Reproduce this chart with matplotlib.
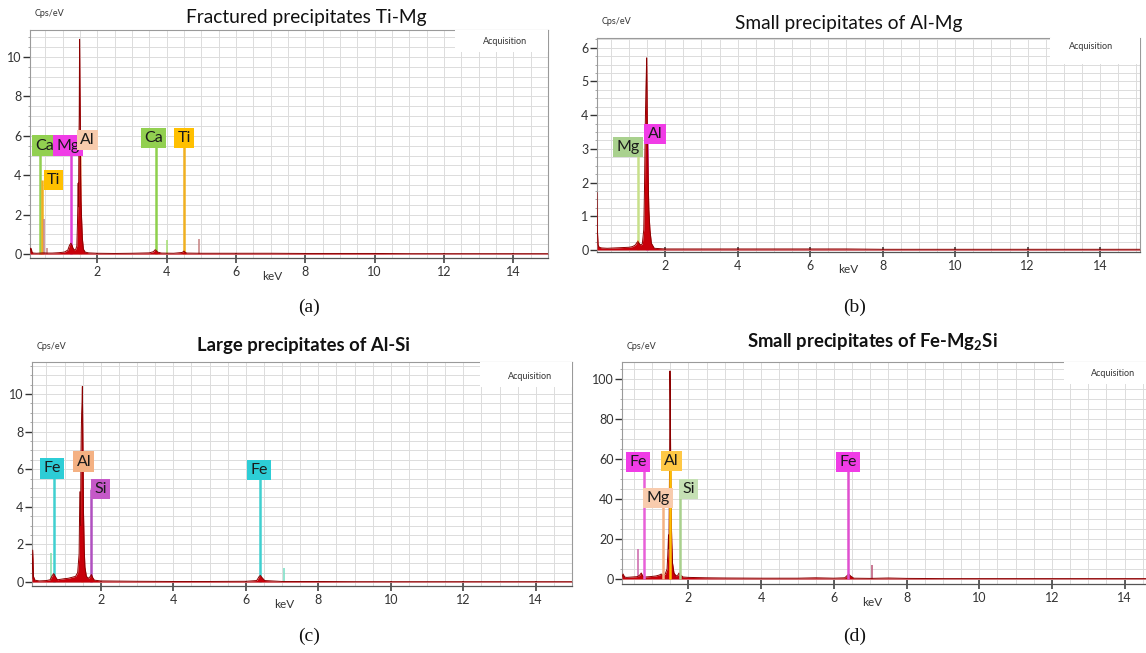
import numpy as np
import matplotlib
matplotlib.use('Agg')
import matplotlib.pyplot as plt
from matplotlib.patches import Rectangle
from matplotlib.ticker import MultipleLocator

plt.rcParams['font.family'] = ['Lato', 'DejaVu Sans']
plt.rcParams['mathtext.fontset'] = 'custom'
plt.rcParams['mathtext.rm'] = 'Lato'
plt.rcParams['mathtext.bf'] = 'Lato:bold'

W, H = 1146, 653

# ---------------- data ----------------
TITLES = ['Fractured precipitates Ti-Mg', 'Small precipitates of Al-Mg',
          'Large precipitates of Al-Si', r'Small precipitates of Fe-Mg$_\mathbf{2}$Si']
TITLE_BOLD = [False, False, True, True]
PANEL_LETTERS = ['(a)', '(b)', '(c)', '(d)']

# panel (a) spectrum
A_KEV = [0.06, 0.08, 0.10, 0.12, 0.16, 0.25, 0.35, 0.45, 0.55, 0.7,
         0.9, 1.05, 1.15, 1.20, 1.24, 1.27, 1.30, 1.34, 1.38, 1.41,
         1.43, 1.45, 1.46, 1.47, 1.48, 1.49, 1.50, 1.51, 1.52, 1.53,
         1.55, 1.57, 1.60, 1.65, 1.75, 2.0, 2.5, 3.0, 3.5, 3.62,
         3.67, 3.70, 3.74, 3.85, 4.2, 4.45, 4.50, 4.53, 4.58, 5.0,
         6.0, 7.0, 8.0, 9.0, 10.0, 11.0, 12.0, 13.0, 14.0, 15.0]
A_CPS = [0.10, 0.30, 0.25, 0.08, 0.05, 0.04, 0.05, 0.06, 0.05, 0.05,
         0.07, 0.10, 0.20, 0.45, 0.55, 0.45, 0.30, 0.20, 0.25, 0.40,
         1.60, 3.60, 2.40, 5.50, 7.00, 10.90, 8.50, 6.80, 4.00, 2.70,
         1.70, 0.80, 0.25, 0.10, 0.06, 0.04, 0.03, 0.04, 0.06, 0.12,
         0.22, 0.18, 0.10, 0.05, 0.04, 0.08, 0.15, 0.10, 0.05, 0.04,
         0.04, 0.04, 0.03, 0.03, 0.03, 0.02, 0.02, 0.02, 0.02, 0.02]
A_ELEM = ['Ca', 'Ti', 'Mg', 'Al', 'Ca', 'Ti']
A_LINE_KEV = [0.34, 0.41, 1.25, 1.49, 3.69, 4.51]
A_LABEL_Y = [5.5, 3.75, 5.5, 5.8, 5.9, 5.9]
A_LABEL_KEV = [0.48, 0.74, 1.15, 1.71, 3.62, 4.51]
A_BOX_COLORS = ['#92d050', '#ffc000', '#f03ce6', '#f8cbad', '#92d050', '#ffc000']
A_LINE_COLORS = ['#92d050', '#f0b020', '#e040d8', '#f4b183', '#8ed04c', '#f0b020']
A_MINOR_KEV = [0.46, 0.56, 4.01, 4.93]
A_MINOR_CPS = [1.8, 0.3, 0.7, 0.75]
A_MINOR_COLORS = ['#c98a8a', '#c98a8a', '#a9e07a', '#c98a8a']

# panel (b) spectrum
B_KEV = [0.12, 0.13, 0.15, 0.18, 0.25, 0.4, 0.6, 0.8, 1.0, 1.1,
         1.18, 1.22, 1.25, 1.28, 1.32, 1.37, 1.41, 1.43, 1.45, 1.47,
         1.48, 1.49, 1.50, 1.51, 1.53, 1.55, 1.58, 1.62, 1.7, 2.0,
         3.0, 4.0, 5.0, 6.0, 7.0, 8.0, 9.0, 10.0, 11.0, 12.0, 13.0, 14.0, 15.1]
B_CPS = [1.70, 0.60, 0.15, 0.08, 0.06, 0.05, 0.06, 0.07, 0.08, 0.10,
         0.15, 0.22, 0.25, 0.20, 0.15, 0.18, 0.60, 1.80, 3.60, 4.80,
         5.20, 5.70, 4.60, 3.40, 2.20, 1.20, 0.60, 0.20, 0.05, 0.03,
         0.03, 0.03, 0.03, 0.03, 0.03, 0.02, 0.02, 0.02, 0.02, 0.02, 0.02, 0.02, 0.02]
B_ELEM = ['Mg', 'Al']
B_LINE_KEV = [1.25, 1.49]
B_LABEL_Y = [3.06, 3.44]
B_LABEL_KEV = [0.98, 1.72]
B_BOX_COLORS = ['#a9d18e', '#f03ce6']
B_LINE_COLORS = ['#c8e08a', '#e040d8']
B_MINOR_KEV = [1.25]
B_MINOR_CPS = [0.3]
B_MINOR_COLORS = ['#f0b050']

# panel (c) spectrum
C_KEV = [0.10, 0.12, 0.14, 0.18, 0.3, 0.5, 0.6, 0.66, 0.70, 0.74,
         0.8, 0.9, 1.0, 1.1, 1.2, 1.3, 1.36, 1.40, 1.42, 1.44,
         1.45, 1.46, 1.47, 1.48, 1.49, 1.50, 1.51, 1.52, 1.54, 1.56,
         1.60, 1.66, 1.71, 1.74, 1.77, 1.82, 2.0, 2.5, 3.0, 4.0,
         5.0, 6.0, 6.3, 6.37, 6.40, 6.44, 6.52, 7.0, 8.0, 9.0,
         10.0, 11.0, 12.0, 13.0, 14.0, 15.0]
C_CPS = [0.20, 1.70, 0.30, 0.10, 0.06, 0.08, 0.12, 0.35, 0.45, 0.30,
         0.12, 0.15, 0.18, 0.20, 0.25, 0.30, 0.50, 1.50, 4.80, 3.00,
         6.50, 8.00, 9.00, 9.50, 10.40, 8.20, 6.00, 3.80, 1.80, 0.80,
         0.30, 0.20, 0.30, 0.40, 0.25, 0.10, 0.06, 0.05, 0.04, 0.03,
         0.03, 0.04, 0.08, 0.30, 0.35, 0.25, 0.08, 0.03, 0.03, 0.02,
         0.02, 0.02, 0.02, 0.02, 0.02, 0.02]
C_ELEM = ['Fe', 'Al', 'Si', 'Fe']
C_LINE_KEV = [0.71, 1.49, 1.74, 6.40]
C_LABEL_Y = [6.04, 6.4, 4.95, 5.96]
C_LABEL_KEV = [0.65, 1.53, 1.99, 6.37]
C_BOX_COLORS = ['#2dcdd6', '#f4b183', '#c558c8', '#2dcdd6']
C_LINE_COLORS = ['#40d0d0', '#f4b183', '#b050c0', '#40d0d0']
C_MINOR_KEV = [0.62, 7.06]
C_MINOR_CPS = [1.55, 0.75]
C_MINOR_COLORS = ['#90e0b0', '#80e0c8']

# panel (d) spectrum
D_KEV = [0.17, 0.20, 0.24, 0.3, 0.45, 0.6, 0.66, 0.70, 0.74, 0.8,
         0.95, 1.1, 1.2, 1.25, 1.3, 1.36, 1.41, 1.43, 1.45, 1.46,
         1.47, 1.48, 1.49, 1.50, 1.51, 1.52, 1.54, 1.56, 1.60, 1.66,
         1.71, 1.74, 1.78, 1.85, 2.0, 2.5, 3.0, 4.0, 5.0, 5.5,
         6.0, 6.3, 6.37, 6.41, 6.46, 6.55, 7.0, 7.5, 8.0, 9.0,
         10.0, 11.0, 12.0, 13.0, 14.0, 14.6]
D_CPS = [1.0, 2.5, 1.0, 0.8, 1.0, 1.2, 2.0, 3.0, 1.5, 1.0,
         1.2, 1.5, 2.0, 2.5, 1.8, 2.5, 5.0, 12.0, 22.0, 15.0,
         35.0, 60.0, 104.0, 88.0, 55.0, 35.0, 18.0, 8.0, 3.0, 1.5,
         2.0, 3.0, 2.0, 1.0, 0.8, 0.6, 0.5, 0.4, 0.4, 0.6,
         0.4, 0.6, 1.8, 2.5, 1.5, 0.4, 0.3, 0.5, 0.3, 0.2,
         0.2, 0.2, 0.2, 0.2, 0.2, 0.2]
D_ELEM = ['Fe', 'Mg', 'Al', 'Si', 'Fe']
D_LINE_KEV = [0.77, 1.29, 1.49, 1.76, 6.39]
D_LABEL_Y = [58.5, 40.5, 59.0, 45.0, 58.5]
D_LABEL_KEV = [0.61, 1.16, 1.53, 2.01, 6.39]
D_BOX_COLORS = ['#f03ce6', '#f8cbad', '#ffc845', '#c5e0b4', '#f03ce6']
D_LINE_COLORS = ['#e860d8', '#f4b183', '#ffc000', '#a9d18e', '#e050d0']
D_MINOR_KEV = [0.62, 7.06]
D_MINOR_CPS = [15.0, 7.0]
D_MINOR_COLORS = ['#d070b0', '#c06080']

Y_TICKS = [[0, 2, 4, 6, 8, 10], [0, 1, 2, 3, 4, 5, 6], [0, 2, 4, 6, 8, 10], [0, 20, 40, 60, 80, 100]]
X_TICKS = [2, 4, 6, 8, 10, 12, 14]

# ---------------- layout ----------------
RECTS_PX = [(30, 30, 548, 258), (597, 38, 1140, 252), (32, 362, 572, 586), (622, 362, 1150, 584)]
XLIMS = [(0.06, 15.0), (0.12, 15.1), (0.10, 15.0), (0.17, 14.7)]
YLIMS = [(-0.2, 11.37), (-0.06, 6.29), (-0.21, 11.7), (-2.5, 108.5)]
Y_GRID = [0.5, 0.25, 0.5, 5]
LINES_ON_TOP = [False, False, False, True]
ACQ_POS = [(0.917, 0.95), (0.91, 0.96), (0.922, 0.935), (0.93, 0.946)]
ACQ_BOX = [(0.82, 0.905), (0.834, 0.88), (0.83, 0.89), (0.837, 0.9)]
TITLE_POS = [(306, 17), (849, 23), (303, 345), (872, 341)]
TITLE_SIZE = [13.8, 13.8, 13.3, 13.3]
LETTER_POS = [(309, 307), (855, 307), (309, 636), (855, 636)]

panels = [
    (A_KEV, A_CPS, A_ELEM, A_LINE_KEV, A_LABEL_Y, A_LABEL_KEV, A_BOX_COLORS, A_LINE_COLORS,
     A_MINOR_KEV, A_MINOR_CPS, A_MINOR_COLORS),
    (B_KEV, B_CPS, B_ELEM, B_LINE_KEV, B_LABEL_Y, B_LABEL_KEV, B_BOX_COLORS, B_LINE_COLORS,
     B_MINOR_KEV, B_MINOR_CPS, B_MINOR_COLORS),
    (C_KEV, C_CPS, C_ELEM, C_LINE_KEV, C_LABEL_Y, C_LABEL_KEV, C_BOX_COLORS, C_LINE_COLORS,
     C_MINOR_KEV, C_MINOR_CPS, C_MINOR_COLORS),
    (D_KEV, D_CPS, D_ELEM, D_LINE_KEV, D_LABEL_Y, D_LABEL_KEV, D_BOX_COLORS, D_LINE_COLORS,
     D_MINOR_KEV, D_MINOR_CPS, D_MINOR_COLORS),
]

fig = plt.figure(figsize=(W / 100, H / 100), dpi=100)
fig.patch.set_facecolor('white')

for i, p in enumerate(panels):
    kev, cps, elem, lkev, laby, labk, bcol, lcol, mkev, mcps, mcol = p
    l, t, r, b = RECTS_PX[i]
    ax = fig.add_axes([l / W, 1 - b / H, (r - l) / W, (b - t) / H])
    ax.set_xlim(*XLIMS[i])
    ax.set_ylim(*YLIMS[i])

    # grid
    ax.xaxis.set_minor_locator(MultipleLocator(0.5))
    ax.yaxis.set_minor_locator(MultipleLocator(Y_GRID[i]))
    ax.grid(which='both', color='#dcdcdc', lw=0.7, zorder=0)
    ax.set_axisbelow(True)

    ax.set_xticks(X_TICKS)
    ax.set_yticks(Y_TICKS[i])
    ax.tick_params(axis='x', which='major', direction='inout', length=7, width=1.1,
                   colors='#333333', labelsize=9, pad=2)
    ax.tick_params(axis='x', which='minor', length=0)
    ax.tick_params(axis='y', which='major', direction='out', length=5, width=1.0,
                   colors='#333333', labelsize=9, pad=1)
    ax.tick_params(axis='y', which='minor', direction='out', length=1.5, width=0.6,
                   colors='#999999')
    for s in ['top', 'right', 'left']:
        ax.spines[s].set_color('#9a9a9a')
        ax.spines[s].set_linewidth(0.8)
    ax.spines['bottom'].set_color('#555555')
    ax.spines['bottom'].set_linewidth(0.9)

    zline = 4 if LINES_ON_TOP[i] else 2
    # element marker lines
    ax.vlines(lkev, 0, laby, colors=lcol, lw=1.8, zorder=zline)
    # minor marker lines
    ax.vlines(mkev, 0, mcps, colors=mcol, lw=1.2, zorder=2.5)
    # spectrum
    ax.fill_between(kev, cps, 0, color='#c8000a', lw=0, zorder=3)
    ax.plot(kev, cps, color='#8b0000', lw=0.7, zorder=3)

    # labels
    for e, x, y, c in zip(elem, labk, laby, bcol):
        ax.text(x, y, e, ha='center', va='center', fontsize=11.5, color='#1a1a1a', zorder=6,
                bbox=dict(boxstyle='square,pad=0.2', fc=c, ec='none'))

    # acquisition box
    bx, by = ACQ_BOX[i]
    ax.add_patch(Rectangle((bx, by), 1 - bx, 1 - by, transform=ax.transAxes,
                           fc='white', ec='none', zorder=5 if i != 1 else 2.6, clip_on=False))
    if i == 1:
        ax.spines['top'].set_bounds(XLIMS[i][0], XLIMS[i][0] + (XLIMS[i][1] - XLIMS[i][0]) * bx)
    ax.text(ACQ_POS[i][0], ACQ_POS[i][1], 'Acquisition', transform=ax.transAxes,
            ha='center', va='center', fontsize=6.5, color='#333333', zorder=7)

    # Cps/eV and keV
    ax.annotate('Cps/eV', xy=(0, 1), xycoords='axes fraction', xytext=(5, 16),
                textcoords='offset pixels', ha='left', va='center', fontsize=6.5, color='#333333')
    ax.annotate('keV', xy=(7.05, 0), xycoords=('data', 'axes fraction'), xytext=(0, -18),
                textcoords='offset pixels', ha='center', va='center', fontsize=8.5, color='#333333')

    # title
    tx, ty = TITLE_POS[i]
    fig.text(tx / W, 1 - ty / H, TITLES[i], ha='center', va='center',
             fontsize=TITLE_SIZE[i],
             fontweight='bold' if TITLE_BOLD[i] else 'normal', color='#111111')
    # panel letter
    lx, ly = LETTER_POS[i]
    fig.text(lx / W, 1 - ly / H, PANEL_LETTERS[i], ha='center', va='center',
             fontsize=14, family='Liberation Serif', color='#111111')

fig.savefig('out.png', dpi=100)
